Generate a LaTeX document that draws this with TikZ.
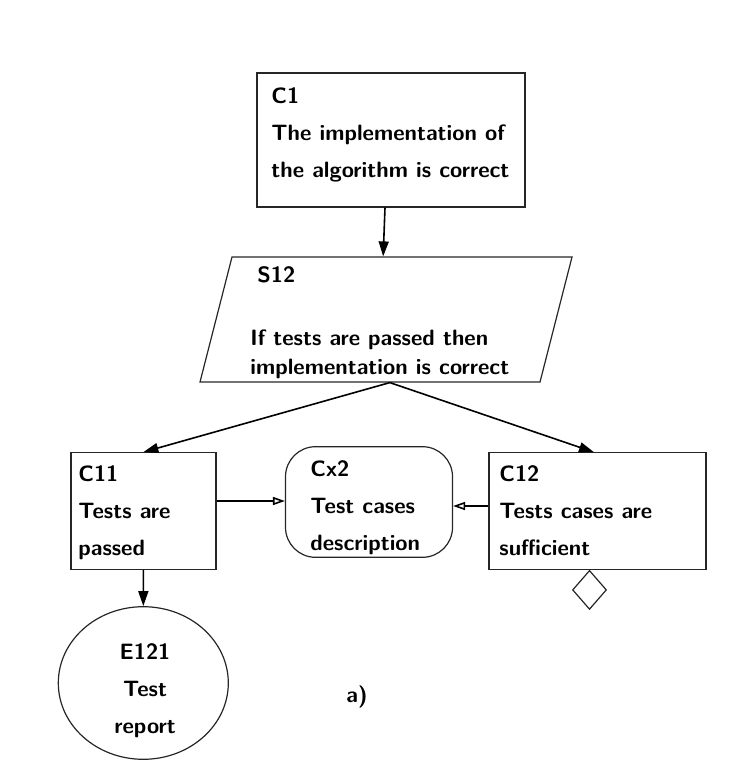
\documentclass[tikz,border=0pt]{standalone}
\usetikzlibrary{shapes.geometric,arrows.meta}
\tikzset{
  gsn/.style={draw=black!85, line width=0.6pt, inner sep=0pt},
  txt/.style={font=\fontsize{11.1}{18.5}\sffamily\bfseries, align=left, inner sep=0pt, anchor=base west},
  solved/.style={-{Triangle[length=7.5pt,width=5pt]}, line width=0.8pt},
  incontext/.style={-{Triangle[open,length=6pt,width=4pt]}, line width=0.8pt}
}
\begin{document}
\begin{tikzpicture}[x=0.5pt,y=-0.5pt]
\useasboundingbox (0,0) rectangle (740,779);
% goal and strategy
\node[gsn, minimum width=134pt, minimum height=67pt] (c1) at (391,140) {};
\node[txt] (c1t) at (271,178) {C1\\The implementation of\\the algorithm is correct};
\node[gsn, xslant=0.256, minimum width=170pt, minimum height=62.5pt] (s12) at (386,319.5) {};
\node[txt] (s12t) at (257,283) {S12};
\node[txt, font=\fontsize{11.1}{14.5}\sffamily\bfseries] (s12s) at (250,375) {If tests are passed then\\implementation is correct};
% sub goals and context
\node[gsn, minimum width=72.5pt, minimum height=58.3pt] (c11) at (143.4,511) {};
\node[txt] (c11t) at (78,555) {C11\\Tests are\\passed};
\node[gsn, rounded corners=15pt, minimum width=83.5pt, minimum height=55.3pt] (cx2) at (369,502) {};
\node[txt] (cx2t) at (310,550) {Cx2\\Test cases\\description};
\node[gsn, minimum width=108.5pt, minimum height=58.2pt] (c12) at (597.5,511) {};
\node[txt] (c12t) at (499,555) {C12\\Tests cases are\\sufficient};
\node[gsn, diamond, minimum width=17pt, minimum height=19.5pt, anchor=north] (u12) at ([xshift=-4pt]c12.south) {};
% evidence
\node[gsn, ellipse, minimum width=85pt, minimum height=76.3pt] (e121) at (143.3,683) {};
\node[txt, align=center, anchor=base] (e121t) at (145,733) {E121\\Test\\report};
\node[txt, anchor=center] (lbl) at (357,697) {a)};
% links
\draw[solved] ([xshift=-3pt]c1.south) -- ([xshift=-9.5pt]s12.north);
\draw[solved] ([xshift=10pt]s12.south) -- (c11.north);
\draw[solved] ([xshift=10pt]s12.south) -- ([xshift=-1.75pt]c12.north);
\draw[solved] (c11.south) -- (e121.north);
\draw[incontext] ([yshift=5pt]c11.east) -- ([yshift=0.5pt]cx2.west);
\draw[incontext] ([yshift=2.5pt]c12.west) -- ([yshift=-2pt]cx2.east);
\end{tikzpicture}
\end{document}
